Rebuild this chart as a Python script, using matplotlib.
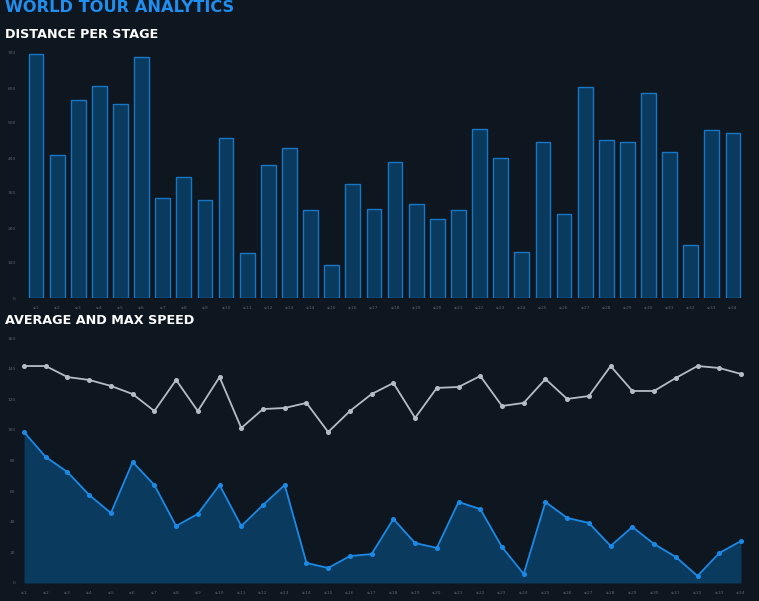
import matplotlib
matplotlib.use("Agg")
import matplotlib.pyplot as plt
import numpy as np

# Data
stages = [f"st{i}" for i in range(1, 35)]
distance = [697, 409, 566, 606, 554, 689, 286, 346, 280, 457, 129, 380, 429, 251, 94, 326, 254,
            389, 269, 226, 251, 483, 400, 131, 446, 240, 603, 451, 446, 586, 417, 151, 480, 471]
max_speed = [141.7, 141.7, 134.5, 132.6, 128.7, 123.4, 112.3, 132.6, 112.3, 134.5, 101.2, 113.6,
             114.3, 117.6, 98.6, 112.3, 123.4, 130.6, 107.8, 127.4, 128.0, 135.2, 115.6, 117.6,
             133.2, 120.2, 122.1, 141.7, 125.4, 125.4, 133.9, 141.7, 140.4, 136.5]
avg_speed = [98.6, 82.3, 72.5, 57.5, 45.7, 79.0, 64.0, 37.2, 45.1, 64.0, 37.2, 50.9, 64.0, 13.1,
             9.8, 17.6, 18.9, 41.8, 26.1, 22.9, 52.9, 48.3, 23.5, 5.9, 52.9, 42.5, 39.2, 24.2,
             36.6, 25.5, 17.0, 4.6, 19.6, 27.4]
dist_ticks = [0, 100, 200, 300, 400, 500, 600, 700]
speed_ticks = [0, 20, 40, 60, 80, 100, 120, 140, 160]

BG = "#0e1620"
BLUE = "#1a8ae6"
EDGE = "#1877c4"
FILL = "#0b3a5f"
GREY = "#b4bcc6"
TICK = "#5a6470"

W, H = 759, 601
fig = plt.figure(figsize=(W / 100, H / 100), dpi=100, facecolor=BG)


def style(ax):
    ax.set_facecolor(BG)
    for s in ax.spines.values():
        s.set_visible(False)
    ax.tick_params(length=0, labelsize=3.2, labelcolor=TICK, pad=6)


# Titles
fig.text(5 / W, 1 - 8 / H, "WORLD TOUR ANALYTICS", color="#1e8ff0", fontsize=11.7,
         fontweight="bold", va="center", ha="left")
fig.text(5 / W, 1 - 35 / H, "DISTANCE PER STAGE", color="white", fontsize=9.2,
         fontweight="bold", va="center", ha="left")
fig.text(5 / W, 1 - 321 / H, "AVERAGE AND MAX SPEED", color="white", fontsize=9.2,
         fontweight="bold", va="center", ha="left")

# Distance bars
ax1 = fig.add_axes([24 / W, 1 - 298 / H, 721 / W, 245 / H])
style(ax1)
x = np.arange(len(stages))
ax1.bar(x, distance, width=0.7, color=FILL, edgecolor=EDGE, linewidth=1.0)
ax1.set_xlim(-0.57, len(stages) - 0.43)
ax1.set_ylim(0, 700)
ax1.set_yticks(dist_ticks)
ax1.set_xticks(x)
ax1.set_xticklabels(stages)

# Speed lines
ax2 = fig.add_axes([24 / W, 1 - 583 / H, 717 / W, 245 / H])
style(ax2)
ax2.fill_between(x, avg_speed, 0, color=FILL, linewidth=0)
ax2.plot(x, avg_speed, color=BLUE, linewidth=1.3, marker="o", markersize=2.6, clip_on=False)
ax2.plot(x, max_speed, color=GREY, linewidth=1.3, marker="o", markersize=2.6, clip_on=False)
ax2.set_xlim(0, len(stages) - 1)
ax2.set_ylim(0, 160)
ax2.set_yticks(speed_ticks)
ax2.set_xticks(x)
ax2.set_xticklabels(stages)

fig.savefig("out.png", dpi=100, facecolor=BG)
